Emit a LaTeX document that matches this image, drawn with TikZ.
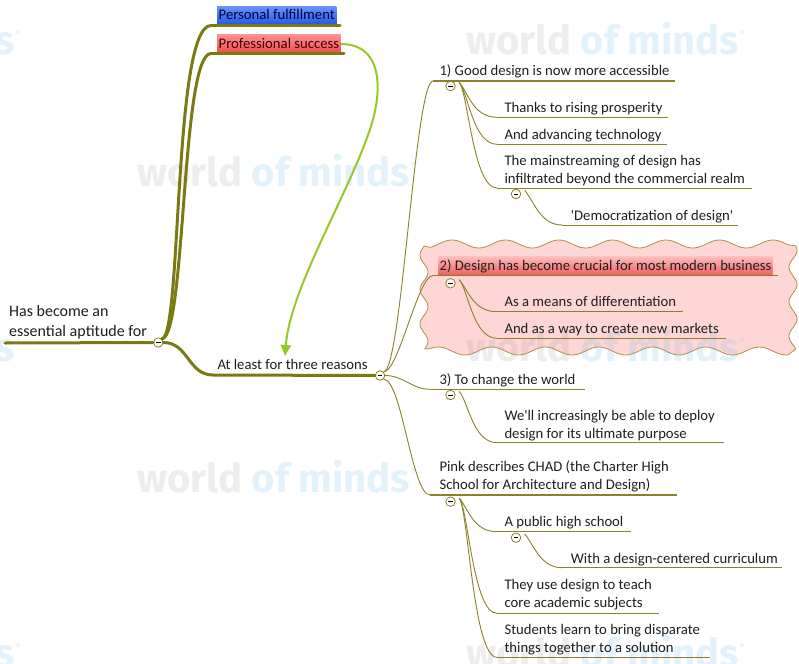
\documentclass[tikz,border=0pt]{standalone}
\usepackage{fontspec}
\setmainfont{Carlito}
\newfontfamily\wmfont{Fira Sans}
\usetikzlibrary{arrows.meta}

\definecolor{olv}{RGB}{122,122,20}
\definecolor{thn}{RGB}{140,128,40}
\definecolor{grn}{RGB}{150,200,40}
\definecolor{cloudf}{RGB}{255,214,214}
\definecolor{cloudd}{RGB}{175,145,70}
\definecolor{wmg}{RGB}{150,150,150}
\definecolor{wmb}{RGB}{90,180,230}
\definecolor{bluetop}{RGB}{105,148,248}
\definecolor{bluebot}{RGB}{35,85,228}
\definecolor{bluetxt}{RGB}{0,0,70}
\definecolor{redtop}{RGB}{255,145,145}
\definecolor{redbot}{RGB}{240,72,72}
\definecolor{redtxt}{RGB}{60,0,0}
\definecolor{hltop}{RGB}{255,190,190}
\definecolor{hlbot}{RGB}{240,92,92}

\tikzset{
 txt/.style={anchor=base west, inner sep=0pt, align=left, text=black!88, font=\fontsize{14.7}{18}\selectfont},
 roottxt/.style={txt, font=\fontsize{16}{20}\selectfont},
 hl/.style={txt, inner xsep=1.5pt, inner ysep=1.5pt, text height=12pt, text depth=3.5pt},
 collapse/.style={circle, draw=thn, fill=white, line width=0.8pt, minimum size=9.5pt, inner sep=0pt,
   path picture={\draw[black, line width=0.9pt] ([xshift=-2.3pt]path picture bounding box.center) -- ([xshift=2.3pt]path picture bounding box.center);}},
 thickline/.style={draw=olv, line width=3pt, line cap=round},
 midline/.style={draw=thn, line width=1.3pt},
 thinline/.style={draw=thn, line width=0.9pt},
 wm/.style={anchor=base west, inner sep=0pt, text opacity=0.17, font=\wmfont\bfseries\fontsize{40}{40}\selectfont},
}

\begin{document}
\begin{tikzpicture}[x=1pt,y=-1pt]
\useasboundingbox (0,0) rectangle (799,663);
\fill[white] (0,0) rectangle (799,663);

% cloud behind topic 2
\path[fill=cloudf, draw=cloudd, line width=0.8pt, line join=round]
  plot[variable=\x, domain=430:788, samples=140] (\x, {244-4*cos((\x-452)*6.729)})
  -- plot[variable=\y, domain=246:349, samples=60] ({793+4*cos((\y-250)*10.435)}, \y)
  -- plot[variable=\x, domain=788:430, samples=140] (\x, {351+4*cos((\x-465)*6.729)})
  -- plot[variable=\y, domain=349:246, samples=60] ({424-4*cos((\y-255)*10.435)}, \y)
  -- cycle;

% watermarks
\foreach \wx/\wy [count=\i] in {466/55,-258/55,137/186,-258/361,466/361,137/492,-258/667,466/667}{
  \node[wm] (wm\i) at (\wx,\wy) {\textcolor{wmg}{world} \textcolor{wmb}{of minds\raisebox{18pt}{\fontsize{8}{8}\selectfont ®}}};
}

% root
\node[roottxt] (root) at (9,336.7) {Has become an\\essential aptitude for};
\node[collapse] (c0) at (158.3,342.5) {};
\coordinate (r0) at (5,343);
\draw[thickline] (r0) -- (c0.west);

% first level
\node[hl, top color=bluetop, bottom color=bluebot, text=bluetxt] (pf) at (217,20) {Personal fulfillment};
\coordinate (pfL) at (211,25.5); \coordinate (pfR) at (340,25.5);
\draw[thickline] (pfL) -- (pfR);
\draw[thickline] (c0.north east) .. controls +(20,-2) and +(-38,0) .. (pfL);

\node[hl, top color=redtop, bottom color=redbot, text=redtxt] (ps) at (217,48.3) {Professional success};
\coordinate (psL) at (211,53.5); \coordinate (psR) at (344,53.5);
\draw[thickline] (psL) -- (psR);
\draw[thickline] (c0.north east) .. controls +(24,-2) and +(-30,0) .. (psL);

\node[txt] (al) at (217.3,369.3) {At least for three reasons};
\coordinate (alL) at (213,375);
\node[collapse] (c1) at (380,375.5) {};
\draw[thickline] (alL) -- (c1.west);
\draw[thickline] (c0.east) .. controls +(25,0) and +(-25,0) .. (alL);

% relationship arrow
\coordinate (arr) at (285,356);
\draw[grn, line width=2pt, -{Triangle[length=11pt,width=10pt]}]
  (ps.east) .. controls (385,44) and (383,95) .. (368,135)
  .. controls (345,200) and (290,290) .. (arr);

% second level
\node[txt] (t1) at (439.3,76) {1) Good design is now more accessible};
\coordinate (t1L) at (433,81); \coordinate (t1R) at (675,81);
\draw[midline] (t1L) -- (t1R);
\draw[thinline] (c1.north east) .. controls +(18,0) and +(-18,0) .. (t1L);
\node[collapse] (k1) at (450.5,86) {};

\node[hl, top color=hltop, bottom color=hlbot] (t2) at (438,270) {2) Design has become crucial for most modern business};
\coordinate (t2L) at (433,275.5); \coordinate (t2R) at (777.7,275.5);
\draw[midline] (t2L) -- (t2R);
\draw[thinline] (c1.north east) .. controls +(15,0) and +(-15,0) .. (t2L);
\node[collapse] (k2) at (450.5,283.3) {};

\node[txt] (t3) at (439.3,384) {3) To change the world};
\coordinate (t3L) at (430,389.3); \coordinate (t3R) at (585,389.3);
\draw[midline] (t3L) -- (t3R);
\draw[thinline] (c1.east) .. controls +(18,0) and +(-18,0) .. (t3L);
\node[collapse] (k3) at (450.5,395) {};

\node[txt] (t4) at (439.3,489.3) {Pink describes CHAD (the Charter High\\School for Architecture and Design)};
\coordinate (t4L) at (430,495); \coordinate (t4R) at (677,495);
\draw[midline] (t4L) -- (t4R);
\draw[thinline] (c1.south east) .. controls +(18,0) and +(-18,0) .. (t4L);
\node[collapse] (k4) at (450.5,501.7) {};

% children of 1
\node[txt] (t11) at (504.3,112.7) {Thanks to rising prosperity};
\coordinate (t11L) at (497,117.3); \coordinate (t11R) at (667.7,117.3);
\node[txt] (t12) at (504.3,139.3) {And advancing technology};
\coordinate (t12L) at (497,144.3); \coordinate (t12R) at (666.7,144.3);
\node[txt] (t13) at (504.3,183.3) {The mainstreaming of design has\\infiltrated beyond the commercial realm};
\coordinate (t13L) at (497,188); \coordinate (t13R) at (751.7,188);
\foreach \n in {t11,t12,t13}{
  \draw[thinline] (\n L) -- (\n R);
  \draw[thinline] ([xshift=5pt]k1.north east) .. controls +(9,10) and +(-24,0) .. (\n L);
}
\node[collapse] (k13) at (516,194) {};
\node[txt] (t131) at (570.7,220) {\textquotesingle Democratization of design\textquotesingle};
\coordinate (t131L) at (562,225); \coordinate (t131R) at (737.7,225);
\draw[thinline] (t131L) -- (t131R);
\draw[thinline] ([xshift=5pt]k13.north east) .. controls +(9,10) and +(-22,0) .. (t131L);

% children of 2
\node[txt] (t21) at (504.3,306.7) {As a means of differentiation};
\coordinate (t21L) at (497,311.7); \coordinate (t21R) at (682.7,311.7);
\node[txt] (t22) at (504.3,333.3) {And as a way to create new markets};
\coordinate (t22L) at (497,338.3); \coordinate (t22R) at (725.7,338.3);
\foreach \n in {t21,t22}{
  \draw[thinline] (\n L) -- (\n R);
  \draw[thinline] ([xshift=5pt]k2.north east) .. controls +(9,10) and +(-24,0) .. (\n L);
}

% children of 3
\node[txt] (t31) at (504.3,438.3) {We\textquotesingle ll increasingly be able to deploy\\design for its ultimate purpose};
\coordinate (t31L) at (497,442.7); \coordinate (t31R) at (724,442.7);
\draw[thinline] (t31L) -- (t31R);
\draw[thinline] ([xshift=5pt]k3.north east) .. controls +(9,10) and +(-24,0) .. (t31L);

% children of 4
\node[txt] (t41) at (504.3,526.7) {A public high school};
\coordinate (t41L) at (497,531.7); \coordinate (t41R) at (631,531.7);
\node[txt] (t42) at (504.3,607.7) {They use design to teach\\core academic subjects};
\coordinate (t42L) at (497,613.3); \coordinate (t42R) at (659.3,613.3);
\node[txt] (t43) at (504.3,652.3) {Students learn to bring disparate\\things together to a solution};
\coordinate (t43L) at (497,657.3); \coordinate (t43R) at (710,657.3);
\foreach \n in {t41,t42,t43}{
  \draw[thinline] (\n L) -- (\n R);
  \draw[thinline] ([xshift=5pt]k4.north east) .. controls +(9,10) and +(-24,0) .. (\n L);
}
\node[collapse] (k41) at (516,537.7) {};
\node[txt] (t411) at (570.7,563.3) {With a design-centered curriculum};
\coordinate (t411L) at (562,567.7); \coordinate (t411R) at (781.7,567.7);
\draw[thinline] (t411L) -- (t411R);
\draw[thinline] ([xshift=5pt]k41.north east) .. controls +(9,10) and +(-22,0) .. (t411L);

\end{tikzpicture}
\end{document}
